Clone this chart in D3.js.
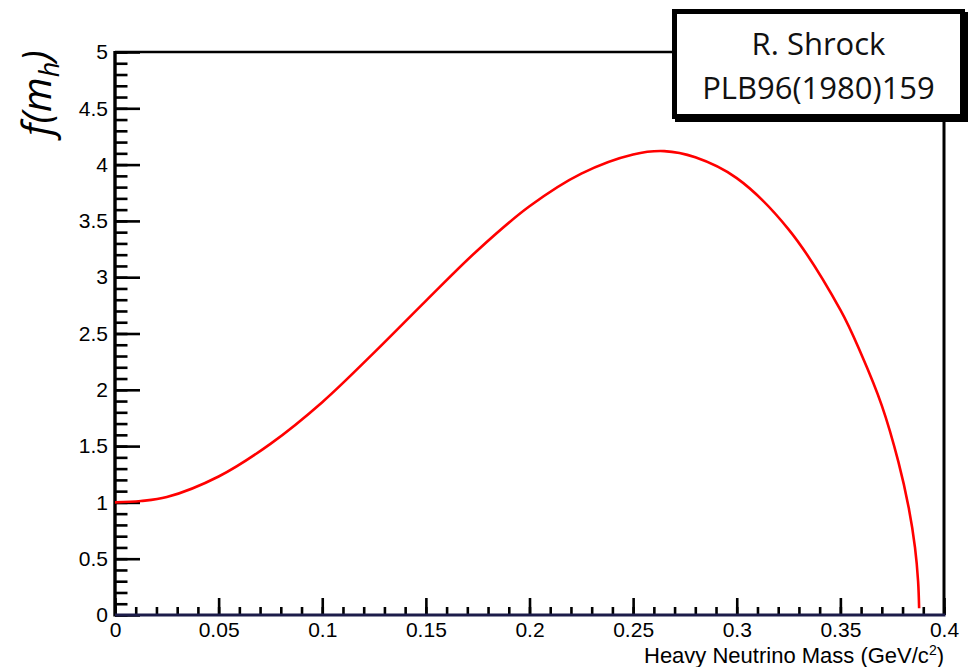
<!DOCTYPE html>
<html>
<head>
<meta charset="utf-8">
<script src="https://cdn.jsdelivr.net/npm/d3@7"></script>
<style>
  body { margin: 0; background: #fff; }
  svg { display: block; }
  .tick text { font-family: "Liberation Sans", Arial, sans-serif; }
</style>
</head>
<body>
<div id="chart"></div>
<script>
// Heavy neutrino mass (GeV/c^2) and enhancement factor f(m_h)
const mass = [0, 0.0125, 0.025, 0.05, 0.075, 0.1, 0.125, 0.15, 0.175, 0.2, 0.225, 0.25,
  0.265, 0.28, 0.3, 0.325, 0.35, 0.36, 0.37, 0.378, 0.383, 0.386, 0.3875, 0.388];
const fValues = [1.0, 1.012, 1.047, 1.23, 1.52, 1.89, 2.33, 2.79, 3.24, 3.63, 3.92, 4.09,
  4.12, 4.065, 3.88, 3.425, 2.71, 2.32, 1.86, 1.36, 0.95, 0.60, 0.30, 0.06];

const xTicks = [0, 0.05, 0.1, 0.15, 0.2, 0.25, 0.3, 0.35, 0.4];
const xTickLabels = ['0', '0.05', '0.1', '0.15', '0.2', '0.25', '0.3', '0.35', '0.4'];
const yTicks = [0, 0.5, 1, 1.5, 2, 2.5, 3, 3.5, 4, 4.5, 5];
const yTickLabels = ['0', '0.5', '1', '1.5', '2', '2.5', '3', '3.5', '4', '4.5', '5'];

const refLines = ['R. Shrock', 'PLB96(1980)159'];

const width = 968;
const height = 667;
const frame = { left: 115, right: 944, top: 52, bottom: 615 };

const svg = d3.select('#chart')
    .append('svg')
    .attr('width', width)
    .attr('height', height);

const x = d3.scaleLinear().domain([0, 0.4]).range([frame.left, frame.right]);
const y = d3.scaleLinear().domain([0, 5]).range([frame.bottom, frame.top]);

// top and right frame lines
svg.append('line')
    .attr('x1', frame.left).attr('x2', frame.right)
    .attr('y1', frame.top).attr('y2', frame.top)
    .attr('stroke', '#000').attr('stroke-width', 2.4);
svg.append('line')
    .attr('x1', frame.right).attr('x2', frame.right)
    .attr('y1', frame.top).attr('y2', frame.bottom)
    .attr('stroke', '#000').attr('stroke-width', 3);

// minor ticks
svg.append('g')
    .attr('transform', `translate(0,${frame.bottom})`)
    .call(d3.axisBottom(x).tickValues(d3.range(0, 0.4001, 0.01)).tickSize(-8).tickFormat(''))
    .call(g => g.select('.domain').remove())
    .selectAll('line').attr('stroke-width', 2.6);
svg.append('g')
    .attr('transform', `translate(${frame.left},0)`)
    .call(d3.axisLeft(y).tickValues(d3.range(0, 5.001, 0.1)).tickSize(-12.5).tickFormat(''))
    .call(g => g.select('.domain').remove())
    .selectAll('line').attr('stroke-width', 2.6);

// major ticks with labels
const xAxis = svg.append('g')
    .attr('transform', `translate(0,${frame.bottom})`)
    .call(d3.axisBottom(x).tickValues(xTicks).tickSize(-17).tickPadding(7)
        .tickFormat((d, i) => xTickLabels[i]));
xAxis.select('.domain').remove();
xAxis.selectAll('line').attr('stroke-width', 2.6);
xAxis.selectAll('text').attr('font-size', 21).attr('fill', '#000');

const yAxis = svg.append('g')
    .attr('transform', `translate(${frame.left},0)`)
    .call(d3.axisLeft(y).tickValues(yTicks).tickSize(-25).tickPadding(7)
        .tickFormat((d, i) => yTickLabels[i]));
yAxis.select('.domain').remove();
yAxis.selectAll('line').attr('stroke-width', 2.6);
yAxis.selectAll('text').attr('font-size', 21).attr('fill', '#000');

// axis lines
svg.append('line')
    .attr('x1', frame.left).attr('x2', frame.left)
    .attr('y1', frame.top - 1).attr('y2', frame.bottom + 1.5)
    .attr('stroke', '#000').attr('stroke-width', 3.4);
svg.append('line')
    .attr('x1', frame.left).attr('x2', frame.right + 1.5)
    .attr('y1', frame.bottom).attr('y2', frame.bottom)
    .attr('stroke', '#1c1c4a').attr('stroke-width', 3);

// curve
const line = d3.line()
    .x((d, i) => x(mass[i]))
    .y(d => y(d))
    .curve(d3.curveCatmullRom.alpha(0.5));

svg.append('path')
    .datum(fValues)
    .attr('fill', 'none')
    .attr('stroke', '#ff0000')
    .attr('stroke-width', 2.6)
    .attr('d', line);

// axis titles
svg.append('text')
    .attr('x', frame.right)
    .attr('y', 663)
    .attr('text-anchor', 'end')
    .attr('font-family', '"Liberation Sans", Arial, sans-serif')
    .attr('font-size', 22)
    .call(t => {
        t.append('tspan').text('Heavy Neutrino Mass (GeV/c');
        t.append('tspan').attr('dy', -8).attr('font-size', 14).text('2');
        t.append('tspan').attr('dy', 8).text(')');
    });

const yTitle = svg.append('text')
    .attr('transform', 'translate(51,136) rotate(-90)')
    .attr('font-family', '"Open Sans", sans-serif')
    .attr('font-style', 'italic')
    .attr('font-size', 40);
yTitle.append('tspan').text('f(m');
yTitle.append('tspan').attr('dy', 8).attr('font-size', 27).text('h');
yTitle.append('tspan').attr('dy', -8).text(')');

// reference box
const box = { x: 674.5, y: 11.5, w: 288, h: 105 };
svg.append('rect')
    .attr('x', box.x + 3).attr('y', box.y + 3)
    .attr('width', box.w).attr('height', box.h)
    .attr('fill', '#000').attr('stroke', '#000').attr('stroke-width', 5);
svg.append('rect')
    .attr('x', box.x).attr('y', box.y)
    .attr('width', box.w).attr('height', box.h)
    .attr('fill', '#fff').attr('stroke', '#000').attr('stroke-width', 5);

svg.selectAll('text.ref')
    .data(refLines)
    .enter()
    .append('text')
    .attr('class', 'ref')
    .attr('x', box.x + box.w / 2)
    .attr('y', (d, i) => 55 + i * 44)
    .attr('text-anchor', 'middle')
    .attr('font-family', '"Open Sans", sans-serif')
    .attr('font-size', 31)
    .attr('fill', '#111')
    .text(d => d);
</script>
</body>
</html>
